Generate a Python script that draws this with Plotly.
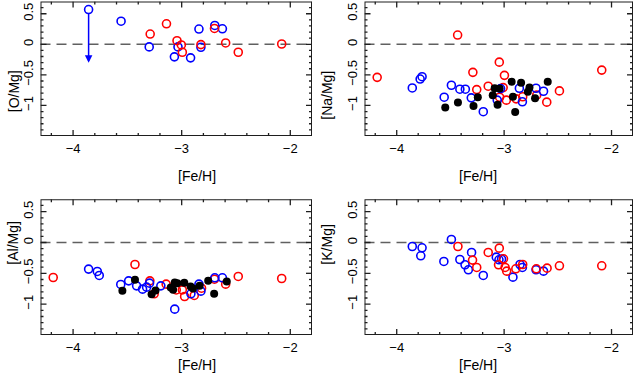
"""Light element ratios versus metallicity, four panel plot."""

import numpy as np
import plotly.graph_objects as go

# [O/Mg] panel
o_feh_blue = [-3.558, -3.299, -3.067, -3.034, -2.918, -2.841, -2.823, -2.695, -2.625]
o_val_blue = [0.378, -0.043, -0.205, -0.043, -0.222, 0.249, -0.049, 0.308, 0.254]
o_feh_red = [-3.290, -3.140, -3.043, -3.003, -2.994, -2.823, -2.698, -2.595, -2.479, -2.079]
o_val_red = [0.168, 0.335, 0.059, -0.011, -0.130, -0.005, 0.259, 0.022, -0.130, 0.005]
o_limit_feh = [-3.857]
o_limit_val = [0.568]
o_limit_to = -0.30

# [Na/Mg] panel
na_feh_red = [-4.182, -3.433, -3.291, -3.255, -3.148, -3.045, -2.997, -3.009, -3.042, -2.979,
              -2.888, -2.827, -2.697, -2.603, -2.485, -2.091]
na_val_red = [-0.541, 0.151, -0.459, -0.741, -0.686, -0.292, -0.508, -0.708, -0.865, -0.914,
              -0.892, -0.859, -0.832, -0.946, -0.762, -0.422]
na_feh_blue = [-3.855, -3.782, -3.764, -3.558, -3.491, -3.412, -3.361, -3.306, -3.194, -3.064,
               -3.033, -2.858, -2.830, -2.703, -2.633]
na_val_blue = [-0.714, -0.568, -0.530, -0.865, -0.670, -0.735, -0.735, -0.876, -1.103, -0.914,
               -0.724, -0.719, -0.941, -0.719, -0.768]
na_feh_black = [-3.548, -3.430, -3.285, -3.245, -3.106, -3.088, -3.042, -3.061, -2.930, -2.918,
                -2.897, -2.842, -2.779, -2.764, -2.712, -2.594]
na_val_black = [-1.032, -0.951, -1.011, -0.865, -0.832, -0.719, -0.724, -0.989, -0.611, -0.859,
                -1.108, -0.627, -0.778, -0.708, -0.881, -0.611]

# [Al/Mg] panel
al_feh_red = [-4.183, -3.430, -3.293, -3.253, -3.143, -3.050, -2.994, -2.973, -2.884, -2.817,
              -2.698, -2.595, -2.479, -2.079]
al_val_red = [-0.568, -0.357, -0.622, -0.832, -0.676, -0.770, -0.768, -0.876, -0.859, -0.741,
              -0.595, -0.676, -0.551, -0.584]
al_feh_blue = [-3.857, -3.777, -3.759, -3.561, -3.488, -3.415, -3.360, -3.323, -3.296, -3.192,
               -3.064, -2.915, -2.841, -2.823, -2.695, -2.625]
al_val_blue = [-0.432, -0.470, -0.535, -0.681, -0.622, -0.703, -0.757, -0.724, -0.659, -0.703,
               -1.081, -0.832, -0.676, -0.789, -0.573, -0.573]
al_feh_black = [-3.546, -3.430, -3.277, -3.241, -3.101, -3.079, -3.064, -3.040, -2.976, -2.918,
                -2.896, -2.835, -2.756, -2.701, -2.585]
al_val_black = [-0.784, -0.605, -0.838, -0.778, -0.730, -0.768, -0.649, -0.659, -0.654, -0.714,
                -0.746, -0.703, -0.622, -0.832, -0.632]

# [K/Mg] panel
k_feh_blue = [-3.855, -3.764, -3.776, -3.561, -3.491, -3.412, -3.364, -3.333, -3.303, -3.194,
              -3.073, -3.048, -3.024, -2.918, -2.852, -2.830, -2.703, -2.633]
k_val_blue = [-0.065, -0.086, -0.216, -0.308, 0.049, -0.276, -0.362, -0.443, -0.162, -0.535,
              -0.238, -0.281, -0.270, -0.562, -0.357, -0.405, -0.443, -0.465]
k_feh_red = [-3.430, -3.294, -3.255, -3.148, -3.045, -3.052, -3.006, -2.991, -2.976, -2.891,
             -2.827, -2.700, -2.600, -2.485, -2.091]
k_val_red = [-0.065, -0.286, -0.405, -0.162, -0.092, -0.362, -0.265, -0.405, -0.465, -0.427,
             -0.357, -0.427, -0.416, -0.378, -0.378]

x_range = [-4.3, -1.8]
y_range = [-1.5, 0.7]
x_major = [-4, -3, -2]
y_major = [-1.5, -1, -0.5, 0, 0.5]

FONT = "Liberation Sans, Arial, sans-serif"
FRAME = "#1e1e1e"
W, H = 636, 382

# panel frames in pixels: (left, right, top, bottom)
panels = [
    (40.5, 312.0, 1.5, 136.0),
    (364.5, 633.0, 1.5, 136.0),
    (40.5, 312.0, 199.3, 335.0),
    (364.5, 633.0, 199.3, 335.0),
]
y_titles = ["[O/Mg]", "[Na/Mg]", "[Al/Mg]", "[K/Mg]"]


def open_circles(x, y, color, xa, ya):
    return go.Scatter(
        x=x, y=y, mode="markers", xaxis=xa, yaxis=ya, showlegend=False, hoverinfo="skip",
        marker={"symbol": "circle-open", "size": 8, "color": color, "line": {"width": 1.6, "color": color}},
    )


def filled_circles(x, y, xa, ya):
    return go.Scatter(
        x=x, y=y, mode="markers", xaxis=xa, yaxis=ya, showlegend=False, hoverinfo="skip",
        marker={"symbol": "circle", "size": 8, "color": "black"},
    )


def frame_traces(xa, ya, width_px, height_px):
    """Box plus inside ticks on all four sides, drawn as line traces."""
    x0, x1 = x_range
    y0, y1 = y_range
    box = go.Scatter(
        x=[x0, x1, x1, x0, x0], y=[y0, y0, y1, y1, y0], mode="lines",
        xaxis=xa, yaxis=ya, showlegend=False, hoverinfo="skip", cliponaxis=False,
        line={"color": FRAME, "width": 2},
    )
    # tick lengths converted from pixels to data units
    px_x = (x1 - x0) / width_px
    px_y = (y1 - y0) / height_px
    tx, ty = [], []
    for v in np.round(np.arange(-4.2, -1.79, 0.2), 2):
        ln = (6 if v in x_major else 3) * px_y
        tx += [v, v, None, v, v, None]
        ty += [y0, y0 + ln, None, y1, y1 - ln, None]
    for v in np.round(np.arange(-1.4, 0.65, 0.1), 2):
        ln = (6 if v in y_major else 3) * px_x
        tx += [x0, x0 + ln, None, x1, x1 - ln, None]
        ty += [v, v, None, v, v, None]
    ticks = go.Scatter(
        x=tx, y=ty, mode="lines", connectgaps=False,
        xaxis=xa, yaxis=ya, showlegend=False, hoverinfo="skip", cliponaxis=False,
        line={"color": FRAME, "width": 1.3},
    )
    return [box, ticks]


fig = go.Figure()

fig.add_trace(open_circles(o_feh_blue + o_limit_feh, o_val_blue + o_limit_val, "#0000ff", "x", "y"))
fig.add_trace(open_circles(o_feh_red, o_val_red, "#ff0000", "x", "y"))

fig.add_trace(open_circles(na_feh_red, na_val_red, "#ff0000", "x2", "y2"))
fig.add_trace(open_circles(na_feh_blue, na_val_blue, "#0000ff", "x2", "y2"))
fig.add_trace(filled_circles(na_feh_black, na_val_black, "x2", "y2"))

fig.add_trace(open_circles(al_feh_red, al_val_red, "#ff0000", "x3", "y3"))
fig.add_trace(open_circles(al_feh_blue, al_val_blue, "#0000ff", "x3", "y3"))
fig.add_trace(filled_circles(al_feh_black, al_val_black, "x3", "y3"))

fig.add_trace(open_circles(k_feh_blue, k_val_blue, "#0000ff", "x4", "y4"))
fig.add_trace(open_circles(k_feh_red, k_val_red, "#ff0000", "x4", "y4"))

axis_common = {
    "showgrid": False,
    "zeroline": False,
    "showline": False,
    "ticks": "",
    "automargin": False,
    "fixedrange": True,
    "tickfont": {"family": FONT, "size": 13, "color": "black"},
}

layout = {}
annotations = []
shapes = []
for i, (left, right, top, bottom) in enumerate(panels):
    n = "" if i == 0 else str(i + 1)
    for tr in frame_traces("x" + n, "y" + n, right - left, bottom - top):
        fig.add_trace(tr)
    layout["xaxis" + n] = dict(
        axis_common,
        domain=[left / W, right / W],
        range=x_range,
        anchor="y" + n,
        tickvals=x_major,
        ticklabelstandoff=3,
    )
    layout["yaxis" + n] = dict(
        axis_common,
        domain=[1 - bottom / H, 1 - top / H],
        range=y_range,
        anchor="x" + n,
        tickvals=y_major[1:],
        tickangle=-90,
        ticklabelstandoff=4,
    )
    # dashed solar line
    shapes.append({
        "type": "line", "xref": "x" + n + " domain", "yref": "y" + n,
        "x0": 0, "x1": 1, "y0": 0, "y1": 0,
        "line": {"color": "#606060", "width": 1.6, "dash": "10px,6px"},
        "layer": "below",
    })
    annotations.append({
        "text": "[Fe/H]", "xref": "paper", "yref": "paper",
        "x": (left + right) / 2 / W, "y": 1 - (bottom + 40) / H,
        "showarrow": False, "font": {"family": FONT, "size": 14, "color": "black"},
    })
    annotations.append({
        "text": y_titles[i], "xref": "paper", "yref": "paper",
        "x": (left - 37) / W, "y": 1 - (top + bottom) / 2 / H,
        "textangle": -90, "showarrow": False,
        "font": {"family": FONT, "size": 14, "color": "black"},
    })

# upper limit arrow for the most metal-poor [O/Mg] point
annotations.append({
    "x": o_limit_feh[0], "y": o_limit_to, "ax": o_limit_feh[0], "ay": o_limit_val[0] - 0.03,
    "xref": "x", "yref": "y", "axref": "x", "ayref": "y",
    "showarrow": True, "arrowhead": 2, "arrowsize": 1, "arrowwidth": 1.5, "arrowcolor": "#0000ff",
    "text": "",
})

fig.update_layout(
    **layout,
    template="none",
    width=W,
    height=H,
    margin={"l": 0, "r": 0, "t": 0, "b": 0, "pad": 0},
    paper_bgcolor="white",
    plot_bgcolor="rgba(0,0,0,0)",
    shapes=shapes,
    annotations=annotations,
    showlegend=False,
    hovermode=False,
)

fig.write_html(
    "out.html",
    config={"displayModeBar": False, "staticPlot": True},
    post_script="document.body.style.margin='0';",
)
